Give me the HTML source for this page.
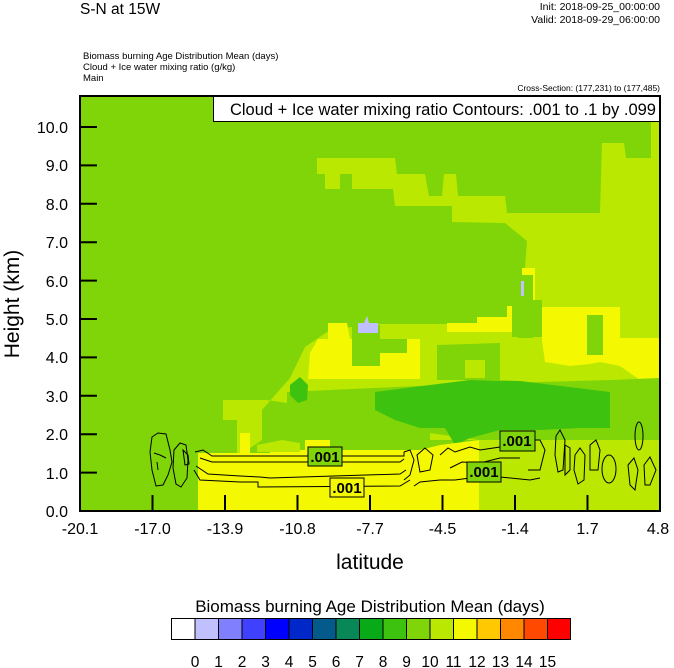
<!DOCTYPE html>
<html><head><meta charset="utf-8"><style>
html,body{margin:0;padding:0;background:#fff;}
svg{display:block;font-family:"Liberation Sans",Arial,sans-serif;}
</style></head><body>
<svg width="674" height="668" viewBox="0 0 674 668" xmlns="http://www.w3.org/2000/svg">
<rect width="674" height="668" fill="#fff"/>
<text x="80" y="14" font-size="15.5">S-N at 15W</text>
<text x="660" y="10" font-size="10.5" text-anchor="end">Init: 2018-09-25_00:00:00</text>
<text x="660" y="23" font-size="10.5" text-anchor="end">Valid: 2018-09-29_06:00:00</text>
<text x="83" y="59" font-size="9.5">Biomass burning Age Distribution Mean    (days)</text>
<text x="83" y="70" font-size="9.5">Cloud + Ice water mixing ratio    (g/kg)</text>
<text x="83" y="81" font-size="9.5">Main</text>
<text x="660" y="91" font-size="8.5" text-anchor="end">Cross-Section: (177,231) to (177,485)</text>

<svg x="80" y="96" width="580" height="415" viewBox="80 96 580 415" overflow="hidden">
<rect x="80" y="96" width="580" height="415" fill="#7fd507"/>
<path fill="#bbe800" d="M317,158 L395,158 L397,174 L425,174 L429,196 L442,196 L444,174 L456,174 L458,196 L505,196 L507,213 L600,213 L602,143 L624,143 L626,158 L651,158 L651,121 L660,121 L660,511 L479,511 L479,440 L430,440 L430,420 L372,420 L340,410 L300,405 L267,400 L237,400 L237,420 L237,511 L198,511 L198,470 L240,455 L262,440 L262,410 L290,378 L305,347 L330,330 L372,324 L400,324 L440,318 L480,310 L505,300 L520,296 L525,268 L527,241 L505,223 L452,222 L452,206 L395,206 L393,189 L325,189 L325,174 L317,174 Z"/>
<path fill="#7fd507" d="M340,174 L352,174 L352,189 L340,189 Z"/>
<path fill="#7fd507" d="M395,296 L522,296 L522,324 L395,324 Z"/>
<path fill="#f4f800" d="M452,306 L515,306 L515,323 L452,323 Z"/>
<path fill="#bbe800" d="M223,400 L237,400 L237,420 L223,420 Z"/>
<path fill="#f4f800" d="M328,323 L347,323 L350,339 L420,339 L420,379 L308,379 L310,353 L318,339 L328,339 Z"/>
<path fill="#7fd507" d="M352,325 L380,325 L380,366 L352,366 Z"/>
<path fill="#7fd507" d="M380,339 L407,339 L407,353 L380,353 Z"/>
<path fill="#f4f800" d="M447,323 L513,323 L513,332 L447,332 Z"/>
<path fill="#f4f800" d="M542,307 L620,307 L620,338 L660,338 L660,380 L640,380 L620,366 L600,362 L590,364 L570,366 L545,362 L542,340 Z"/>
<path fill="#f4f800" d="M522,268 L535,268 L535,307 L542,307 L542,325 L522,325 Z"/>
<path fill="#7fd507" d="M587,315 L603,315 L603,355 L587,355 Z"/>
<path fill="#7fd507" d="M518,275 L533,275 L533,338 L518,338 Z"/>
<path fill="#7fd507" d="M430,300 L507,300 L507,317 L477,317 L477,323 L430,323 Z"/>
<path fill="#7fd507" d="M512,300 L542,300 L542,337 L512,337 Z"/>
<path fill="#7fd507" d="M437,345 L500,343 L500,380 L437,380 Z"/>
<path fill="#bbe800" d="M465,360 L485,360 L485,378 L465,378 Z"/>
<path fill="#7fd507" d="M287,392 L440,385 L610,380 L660,378 L660,440 L479,440 L430,433 L350,433 L300,425 L287,410 Z"/>
<path fill="#3ec210" d="M375,392 L430,385 L470,380 L520,381 L610,392 L610,428 L580,428 L540,430 L500,430 L470,438 L455,445 L445,428 L420,428 L395,420 L375,410 Z"/>
<path fill="#3ec210" d="M290,385 L300,377 L308,385 L307,400 L298,403 L290,395 Z"/>
<path fill="#f4f800" d="M198,511 L198,453 L240,453 L240,433 L250,433 L250,453 L270,453 L270,450 L305,450 L305,440 L330,440 L330,450 L420,450 L440,445 L479,440 L479,511 Z"/>
<path fill="#bbe800" d="M257,445 L282,440 L300,443 L300,452 L257,452 Z"/>
<path fill="#c0c0ff" d="M358,323 L364,323 L367,316 L369,323 L378,323 L378,333 L358,333 Z"/>
<rect x="521" y="281" width="3" height="15" fill="#c0c0ff"/>
<g fill="none" stroke="#000" stroke-width="1">
<path d="M152,437 L158,433 L166,434 L170,450 L172,462 L168,475 L163,485 L156,486 L152,470 L150,452 Z"/>
<path d="M154,453 L160,455 L166,458"/>
<path d="M157,462 L158,470"/>
<path d="M174,450 L180,443 L186,445 L188,460 L187,478 L181,487 L176,484 L173,468 Z"/>
<path d="M183,450 L188,455 L189,464 L185,465 Z"/>
<path d="M195,452 L203,450 L212,456 L404,456 L404,452"/>
<path d="M200,458 L212,462 L400,462 L404,459"/>
<path d="M196,466 L208,474 L240,476 L260,477 L270,478 L400,474 L406,470"/>
<path d="M194,470 L200,480 L240,482 L258,482 L258,487 L400,486 L410,480"/>
<path d="M404,452 L410,450 L414,460 L410,475 L404,480"/>
<path d="M417,455 L425,448 L433,455 L430,470 L420,472 Z"/>
<path d="M414,486 L420,482 L440,480 L455,480 L470,478 L500,477 L530,480 L540,478"/>
<path d="M440,455 L448,448 L455,452 L470,447 L480,450 L500,447 L510,440 L520,446"/>
<path d="M450,468 L462,462 L480,463 L500,458 L520,458"/>
<path d="M520,440 L540,440 L545,450 L540,470 L528,470"/>
<path d="M556,436 L560,430 L565,440 L563,470 L558,472 L555,455 Z"/>
<path d="M565,445 L570,448 L570,470 L565,475 Z"/>
<path d="M575,455 L580,448 L585,455 L584,480 L578,484 L574,470 Z"/>
<path d="M590,445 L596,440 L600,450 L598,470 L590,470 Z"/>
<ellipse cx="609" cy="469" rx="7" ry="14"/>
<ellipse cx="639" cy="436" rx="4" ry="14"/>
<path d="M628,465 L634,458 L638,470 L635,490 L630,485 Z"/>
<path d="M644,465 L650,457 L656,470 L650,485 L645,485 Z"/>
</g>
<g font-size="15" font-weight="bold">
<rect x="308" y="447" width="34" height="19" fill="#7fd507" stroke="#000"/>
<text x="325" y="462" text-anchor="middle">.001</text>
<rect x="330" y="478" width="34" height="19" fill="#f4f800" stroke="#000"/>
<text x="347" y="493" text-anchor="middle">.001</text>
<rect x="467" y="462" width="34" height="20" fill="#7fd507" stroke="#000"/>
<text x="484" y="477" text-anchor="middle">.001</text>
<rect x="500" y="431" width="35" height="20" fill="#7fd507" stroke="#000"/>
<text x="517" y="446" text-anchor="middle">.001</text>
</g>
</svg>
<rect x="213.5" y="96.5" width="446" height="25" fill="#fff" stroke="#000"/>
<text x="656" y="115" font-size="16.5" text-anchor="end">Cloud + Ice water mixing ratio Contours: .001 to .1 by .099</text>
<rect x="80" y="96" width="580" height="415" fill="none" stroke="#000" stroke-width="2"/>
<g stroke="#000" stroke-width="2">
<line x1="80" y1="127" x2="97" y2="127"/><line x1="80" y1="165.4" x2="97" y2="165.4"/>
<line x1="80" y1="203.8" x2="97" y2="203.8"/><line x1="80" y1="242.2" x2="97" y2="242.2"/>
<line x1="80" y1="280.6" x2="97" y2="280.6"/><line x1="80" y1="319" x2="97" y2="319"/>
<line x1="80" y1="357.4" x2="97" y2="357.4"/><line x1="80" y1="395.8" x2="97" y2="395.8"/>
<line x1="80" y1="434.2" x2="97" y2="434.2"/><line x1="80" y1="472.6" x2="97" y2="472.6"/>
<line x1="152.5" y1="511" x2="152.5" y2="495"/><line x1="225" y1="511" x2="225" y2="495"/>
<line x1="297.5" y1="511" x2="297.5" y2="495"/><line x1="370" y1="511" x2="370" y2="495"/>
<line x1="442.5" y1="511" x2="442.5" y2="495"/><line x1="515" y1="511" x2="515" y2="495"/>
<line x1="587.5" y1="511" x2="587.5" y2="495"/>
</g>
<g font-size="16" text-anchor="end">
<text x="68" y="133">10.0</text><text x="68" y="171">9.0</text><text x="68" y="210">8.0</text>
<text x="68" y="248">7.0</text><text x="68" y="287">6.0</text><text x="68" y="325">5.0</text>
<text x="68" y="363">4.0</text><text x="68" y="402">3.0</text><text x="68" y="440">2.0</text>
<text x="68" y="479">1.0</text><text x="68" y="517">0.0</text>
</g>
<g font-size="16" text-anchor="middle">
<text x="80" y="534">-20.1</text><text x="152.5" y="534">-17.0</text><text x="225" y="534">-13.9</text>
<text x="297.5" y="534">-10.8</text><text x="370" y="534">-7.7</text><text x="442.5" y="534">-4.5</text>
<text x="515" y="534">-1.4</text><text x="587.5" y="534">1.7</text><text x="658" y="534">4.8</text>
</g>
<text x="370" y="569" font-size="21" text-anchor="middle">latitude</text>
<text transform="translate(19,304) rotate(-90)" font-size="21" text-anchor="middle">Height (km)</text>
<text x="370" y="612" font-size="17" text-anchor="middle">Biomass burning Age Distribution Mean  (days)</text>
<g stroke="#000" stroke-width="1">
<rect x="171.5" y="618.5" width="23.5" height="21" fill="#ffffff"/>
<rect x="195" y="618.5" width="23.5" height="21" fill="#c0c0ff"/>
<rect x="218.5" y="618.5" width="23.5" height="21" fill="#8080ff"/>
<rect x="242" y="618.5" width="23.5" height="21" fill="#4040ff"/>
<rect x="265.5" y="618.5" width="23.5" height="21" fill="#0000ff"/>
<rect x="289" y="618.5" width="23.5" height="21" fill="#0028c8"/>
<rect x="312.5" y="618.5" width="23.5" height="21" fill="#055a8c"/>
<rect x="336" y="618.5" width="23.5" height="21" fill="#088857"/>
<rect x="359.5" y="618.5" width="23.5" height="21" fill="#08aa17"/>
<rect x="383" y="618.5" width="23.5" height="21" fill="#3ec210"/>
<rect x="406.5" y="618.5" width="23.5" height="21" fill="#7fd507"/>
<rect x="430" y="618.5" width="23.5" height="21" fill="#bbe800"/>
<rect x="453.5" y="618.5" width="23.5" height="21" fill="#f4f800"/>
<rect x="477" y="618.5" width="23.5" height="21" fill="#ffc800"/>
<rect x="500.5" y="618.5" width="23.5" height="21" fill="#ff8800"/>
<rect x="524" y="618.5" width="23.5" height="21" fill="#ff4800"/>
<rect x="547.5" y="618.5" width="23" height="21" fill="#ff0000"/>
</g>
<g font-size="15.5" text-anchor="middle">
<text x="195" y="667">0</text><text x="218.5" y="667">1</text><text x="242" y="667">2</text>
<text x="265.5" y="667">3</text><text x="289" y="667">4</text><text x="312.5" y="667">5</text>
<text x="336" y="667">6</text><text x="359.5" y="667">7</text><text x="383" y="667">8</text>
<text x="406.5" y="667">9</text><text x="430" y="667">10</text><text x="453.5" y="667">11</text>
<text x="477" y="667">12</text><text x="500.5" y="667">13</text><text x="524" y="667">14</text>
<text x="547.5" y="667">15</text>
</g>
</svg>
</body></html>
